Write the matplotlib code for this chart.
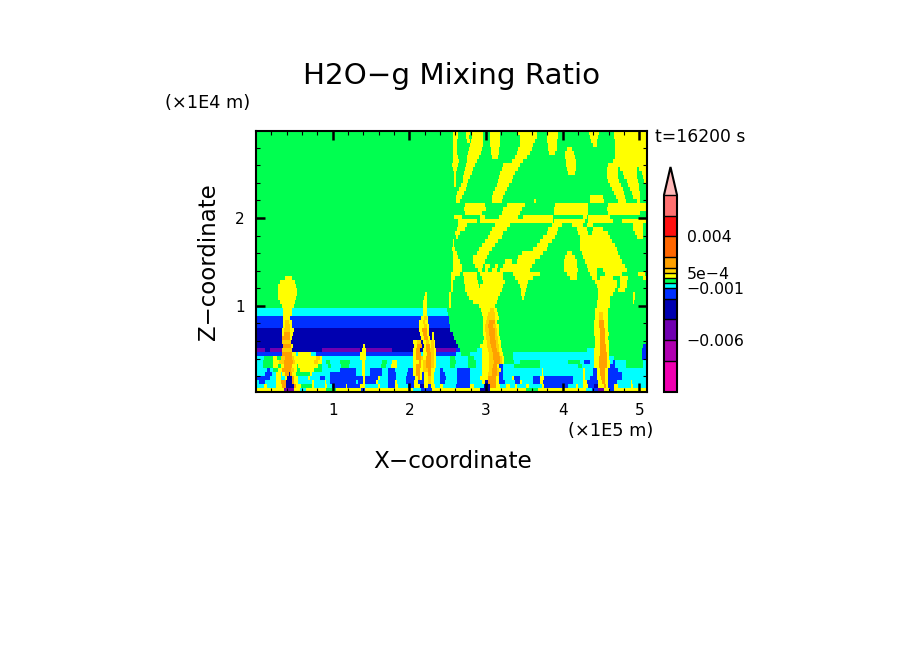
import numpy as np
import matplotlib
matplotlib.use('Agg')
import matplotlib.pyplot as plt
from matplotlib.colors import BoundaryNorm, ListedColormap

title = 'H2O\u2212g Mixing Ratio'
x_label = 'X\u2212coordinate'
y_label = 'Z\u2212coordinate'
x_ticks = [1, 2, 3, 4, 5]
y_ticks = [1, 2]
x_range = [0, 5.1]
y_range = [0.02, 2.99]

levels = [-0.011, -0.008, -0.006, -0.004, -0.002, -0.001, -5e-4, 0, 5e-4, 0.001, 0.002, 0.004, 0.006, 0.008]
colors = ['#f000b0', '#b000b0', '#7000b0', '#0000b0', '#0030ff', '#00ffff', '#00ff50',
          '#ffff00', '#ffd000', '#ffa000', '#ff6600', '#ff1010', '#ff7070']
over_color = '#ffb8b8'
cbar_ticks = [0.004, 5e-4, -0.001, -0.006]
cbar_labels = ['0.004', '5e\u22124', '\u22120.001', '\u22120.006']

# value of each colour class in the strings below
class_values = {'p': -0.005, 'n': -0.003, 'b': -0.0015, 'c': -7.5e-4, 'g': -2.5e-4,
                'y': 2.5e-4, 'd': 7.5e-4, 'o': 0.0015, 'r': 0.003}

# field, top row first: class letter + last column of the run
rows = [
    'g197 y202 g210 y214 g216 y227 g234 y244 g262 y281 g291 y302 g333 y343 g358 y391',
    'g197 y202 g210 y213 g216 y227 g234 y244 g264 y281 g291 y302 g334 y342 g358 y391',
    'g197 y201 g211 y214 g215 y227 g234 y244 g264 y279 g291 y301 g335 y341 g359 y391',
    'g197 y201 g214 y227 g234 y244 g264 y277 g292 y301 g337 y341 g359 y391',
    'g197 y201 g213 y226 g235 y243 g262 y276 g292 y301 g311 y316 g359 y391',
    'g197 y201 g212 y225 g235 y243 g261 y274 g293 y299 g309 y318 g359 y391',
    'g197 y202 g211 y223 g236 y242 g259 y271 g309 y319 g359 y391',
    'g197 y203 g211 y221 g256 y267 g310 y320 g357 y391',
    'g196 y202 g210 y219 g247 y264 g310 y320 g352 y391',
    'g197 y201 g209 y217 g246 y262 g311 y320 g351 y362 g364 y381 g383 y391',
    'g198 y200 g208 y216 g244 y259 g312 y319 g351 y362 g367 y381 g386 y391',
    'g198 y200 g207 y214 g243 y257 g351 y362 g368 y381 g387 y391',
    'g198 y200 g207 y212 g242 y256 g352 y363 g371 y382 g388 y391',
    'g198 y200 g205 y211 g241 y253 g354 y365 g372 y383 g390 y391',
    'g203 y210 g239 y251 g356 y367 g374 y383 g391',
    'g201 y208 g237 y249 g358 y368 g376 y384 g391',
    'g200 y206 g236 y247 g334 y347 g360 y369 g377 y384 g391',
    'g200 y204 g236 y246 g278 y280 g334 y348 g362 y370 g381 y384 g391',
    'g209 y229 g251 y269 g299 y332 g352 y391',
    'g208 y230 g247 y266 g298 y332 g351 y391',
    'g209 y226 g246 y264 g298 y332 g352 y384 g391',
    'g198 y206 g224 y229 g243 y262 g267 y297 g327 y331 g332 y354 g391',
    'g202 y221 g224 y297 g298 y329 g332 y357 g366 y391',
    'g202 y211 g239 y254 g296 y306 g316 y327 g331 y337 g377 y387 g391',
    'g201 y209 g236 y251 g292 y302 g321 y331 g337 y347 g377 y387 g391',
    'g199 y204 g234 y247 g291 y301 g322 y332 g336 y352 g379 y387 g391',
    'g200 y202 g232 y246 g287 y299 g324 y354 g381 y387 g391',
    'g197 y198 g229 y242 g284 y296 g324 y356 g391',
    'g197 y198 g226 y239 g281 y292 g324 y359 g391',
    'g196 y199 g223 y236 g277 y291 g324 y361 g391',
    'g197 y201 g221 y233 g266 y287 g311 y316 g326 y362 g391',
    'g197 y202 g217 y231 g262 y284 g309 y319 g327 y364 g391',
    'g197 y204 g217 y229 g249 y256 g261 y279 g308 y321 g329 y366 g391',
    'g197 y206 g219 y227 g229 y234 g239 y242 g247 y276 g308 y321 g331 y369 g391',
    'g197 y206 g222 y226 g229 y232 g236 y241 g244 y274 g308 y322 g332 y341 g347 y371 g391',
    'g195 y204 g207 y221 g224 y247 g257 y284 g311 y321 g334 y341 g349 y366 g382 y389 g391',
    'g29 y36 g195 y199 g208 y221 g226 y247 g259 y277 g314 y321 g336 y341 g344 y357 g364 y372 g387 y390 g391',
    'g24 y39 g195 y197 g208 y222 g227 y249 g262 y272 g339 y361 g364 y371 g391',
    'g22 y40 g195 y197 g209 y223 g224 y247 g264 y271 g341 y361 g364 y371 g391',
    'g22 y41 g195 y197 g209 y246 g265 y270 g342 y359 g362 y369 g391',
    'g22 y41 g169 y171 g193 y195 g211 y244 g265 y269 g342 y357 g377 y379 g391',
    'g22 y40 g168 y171 g193 y195 g213 y242 g266 y268 g342 y354 g377 y379 g391',
    'g24 y39 g167 y171 g193 y195 g217 y241 g341 y354 g377 y378 g391',
    'g26 y38 g167 y171 g193 y195 g223 y239 g341 y354 g391',
    'c27 y36 c167 y171 c191 g225 y234 d238 y241 g339 y352 g391',
    'c27 y36 c167 y171 c192 g226 y232 d239 y242 g339 y343 d347 y352 g391',
    'b27 y34 b165 y168 d171 y172 b193 g227 y231 d239 y243 g339 y343 d347 y352 g391',
    'b27 y29 d33 y36 b163 y167 d169 y172 b193 g227 y230 d233 o239 y241 g338 y343 o348 y352 g391',
    'b27 y29 d34 y36 b163 y168 d171 y173 b194 g227 y229 d232 o237 d240 y243 g338 y343 o348 y352 g391',
    'n26 y28 d34 y38 n163 y166 o171 y173 n194 g227 y229 d233 o239 d241 y243 g338 y344 o349 y352 g391',
    'n26 y28 o34 y37 n164 y167 o171 y173 n176 y178 n197 g227 y230 d233 o239 d241 y243 g338 y344 o349 y353 g391',
    'n26 o34 y36 n165 y168 o172 y174 n176 y178 n198 g228 y230 d234 o239 d242 y244 g339 y344 o349 y352 g391',
    'n26 d35 n157 y161 d165 n167 y170 d173 y175 d178 y179 n200 g227 y231 d234 o240 d242 y245 g339 y344 o349 y353 g391',
    'n27 o35 y37 n107 y109 n158 y161 o166 n168 y170 o174 y175 d178 y179 n202 g224 y231 d235 o240 d243 y245 g339 y344 o350 y353 g387 b391',
    'p9 n14 p26 d36 n66 p104 n106 y110 p136 n157 y160 o164 n167 y170 o174 d178 y180 p200 b204 g221 c226 y232 d236 o241 d243 y246 g331 c338 y344 o350 y353 g386 b391',
    'b26 o36 y40 c42 y55 c60 b104 y110 b157 y160 o165 c167 y171 o175 d178 y180 b200 c205 g214 c226 y233 d237 o243 d244 y247 g257 c338 y344 o351 y353 g386 b391',
    'c8 g17 y21 g25 d29 o36 d38 y60 d64 y66 c104 y110 c157 y160 o165 d167 y170 o175 d178 y180 c194 g199 c212 g218 c226 y233 d237 o244 d246 y248 g257 c338 y343 o351 y353 c358 g386 b391',
    'c7 g17 y23 d28 o37 d39 y58 d62 y66 c70 g74 c84 g94 c106 y109 c126 g131 c136 y141 c157 y163 o165 y167 d170 o175 d178 y180 c194 g200 c212 g220 c226 y233 d238 o244 d246 y248 g258 c264 g284 c312 g324 c328 b334 c338 y343 o351 y354 c357 b359 c370 g387 c391',
    'c7 g17 y22 g25 y28 o36 y41 g42 y62 g66 c72 g75 c85 g93 c106 y109 c125 g130 c135 y141 c157 y160 o165 y167 d170 o175 d178 y180 c194 g199 c212 g220 c226 y233 d237 o241 y243 b247 c258 g284 c322 g326 c338 y343 o351 y354 b359 c370 g387 c391',
    'c11 b14 c17 g22 y26 o35 d38 y41 g44 y58 g66 c84 b100 c106 y109 c114 b126 c132 b139 c152 b157 y160 o164 y167 d172 o175 y179 c184 b187 c201 b214 c226 y233 d236 o241 d243 y245 b247 c286 y287 c327 y329 c337 b341 y344 o349 y352 b362 c391',
    'c9 b16 c20 y25 c26 y29 o33 n34 o36 y40 g54 y56 c74 b100 c106 y109 c114 b126 c132 b140 c151 b157 y160 o164 y166 b168 y172 o175 y178 c184 b189 c201 b214 c226 y232 d236 o241 d243 b247 c286 y287 c327 y329 c337 b341 y344 o349 y352 b366 c391',
    'b14 c20 y25 c29 y31 n36 o38 y42 c52 y54 c64 b69 c74 b107 y109 b122 y124 c132 b140 c150 b159 y162 o164 y166 b168 y172 d175 y178 c184 b190 c201 b214 c224 y232 o240 y243 b247 c256 y258 b264 c277 b284 y288 b317 c327 y329 c334 b341 y345 o349 y352 b366 c391',
    'c3 b9 c20 y25 o30 n36 o38 y42 c56 y58 c69 y70 c74 b100 c102 b107 y109 b120 y122 c132 b139 y141 c150 b158 y162 b168 y172 d175 y178 c184 b189 c201 b214 c226 y229 n232 o240 y243 b249 c259 b264 y266 c277 b284 y287 b317 c327 y331 b342 y346 o349 y352 b361 c375 y376 c391',
    'c8 y11 c20 y26 o30 n38 o40 y45 g56 y58 c69 y71 c76 b90 y91 b104 y109 c122 y124 c132 b139 y142 c152 b158 y164 n168 y172 b175 y179 c184 y187 c200 b214 y218 c228 n234 o240 y244 c250 y254 c259 y261 c270 y273 c286 y288 b312 c320 y322 c327 y332 b338 n342 y348 o350 y352 b358 y362 c375 y377 c391',
    'y28 p38 y44 c50 y70 g80 y105 b109 y157 c165 b176 y224 n234 y270 g282 y330 c336 b342 p348 y354 b358 y391',
]


def expand(row, width=391):
    cells = np.zeros(width)
    pos = 0
    for tok in row.split():
        end = int(tok[1:])
        cells[pos:end] = class_values[tok[0]]
        pos = max(pos, end)
    cells[pos:] = cells[pos - 1]
    return cells


field = np.array([expand(r) for r in rows])
x_edges = np.linspace(x_range[0], x_range[1], field.shape[1] + 1)
y_edges = np.linspace(y_range[1], y_range[0], field.shape[0] + 1)

cmap = ListedColormap(colors)
cmap.set_over(over_color)
norm = BoundaryNorm(levels, cmap.N)

W, H = 904, 654
fig = plt.figure(figsize=(W / 100, H / 100), dpi=100)
plt.rcParams['font.family'] = 'DejaVu Sans'


def box(left, top, right, bottom):
    return [left / W, 1 - bottom / H, (right - left) / W, (bottom - top) / H]


ax = fig.add_axes(box(256, 131, 647, 392))
mesh = ax.pcolormesh(x_edges, y_edges, field, cmap=cmap, norm=norm, antialiased=False, rasterized=True)
ax.set_xlim(x_range)
ax.set_ylim(y_range)
ax.set_xticks(x_ticks)
ax.set_yticks(y_ticks)
ax.set_xticks(np.arange(0.2, 5.1, 0.2), minor=True)
ax.set_yticks(np.arange(0.2, 3.0, 0.2), minor=True)
ax.tick_params(which='major', direction='in', top=True, right=True, length=6.5, width=1.8,
               labelsize=11, pad=8)
ax.tick_params(which='minor', direction='in', top=True, right=True, length=3, width=0.8)
for s in ax.spines.values():
    s.set_linewidth(1.5)

# the extend triangle takes its share inside the colorbar axes
cax = fig.add_axes(box(664, 167, 677, 392))
cbar = fig.colorbar(mesh, cax=cax, extend='max', extendfrac=0.142, spacing='proportional',
                    drawedges=True)
cbar.set_ticks(cbar_ticks, labels=cbar_labels)
cbar.minorticks_off()
cax.tick_params(length=0, labelsize=11.3, pad=7)
cbar.outline.set_linewidth(1.5)
cbar.dividers.set_linewidth(1.0)

fig.text(452 / W, 1 - 76 / H, title, fontsize=21.2, ha='center', va='center')
fig.text(452.5 / W, 1 - 461 / H, x_label, fontsize=16.7, ha='center', va='center')
fig.text(209 / W, 1 - 262 / H, y_label, fontsize=16.5, rotation=90, ha='center', va='center')
fig.text(208 / W, 1 - 103 / H, '(\u00d71E4 m)', fontsize=12.8, ha='center', va='center')
fig.text(611 / W, 1 - 431 / H, '(\u00d71E5 m)', fontsize=12.8, ha='center', va='center')
fig.text(700.5 / W, 1 - 137 / H, 't=16200 s', fontsize=12.3, ha='center', va='center')

fig.savefig('out.png', dpi=100)
